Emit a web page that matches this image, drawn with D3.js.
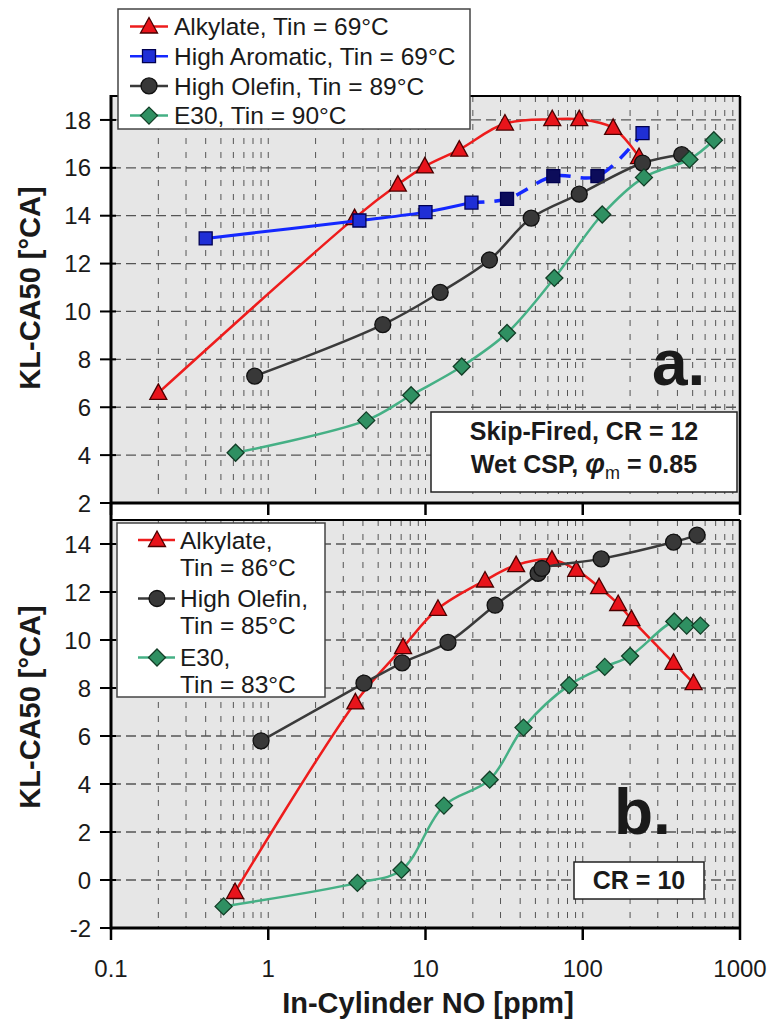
<!DOCTYPE html>
<html>
<head>
<meta charset="utf-8">
<script src="https://cdn.jsdelivr.net/npm/d3@7"></script>
<style>
  body { margin: 0; background: #fff; }
  text { font-family: "Liberation Sans", Arial, sans-serif; fill: #1a1a1a; }
</style>
</head>
<body>
<div id="chart"></div>
<script>
// ---- panel a : Skip-Fired, CR = 12 ----
var alkA_x = [0.2, 3.54, 6.67, 9.9, 16.4, 32, 64, 95, 156, 228];
var alkA_y = [6.6, 13.9, 15.3, 16.06, 16.76, 17.85, 18.03, 18.03, 17.67, 16.45];
var aroA_x = [0.4, 3.8, 10, 19.6, 33, 65, 124, 240];
var aroA_y = [13.05, 13.8, 14.15, 14.55, 14.7, 15.65, 15.65, 17.45];
var olfA_x = [0.82, 5.35, 12.4, 25.5, 47, 95, 240, 426];
var olfA_y = [7.3, 9.45, 10.8, 12.15, 13.9, 14.9, 16.2, 16.55];
var e30A_x = [0.62, 4.2, 8.1, 17, 33, 66, 133, 245, 477, 682];
var e30A_y = [4.1, 5.45, 6.5, 7.7, 9.1, 11.4, 14.05, 15.6, 16.35, 17.15];

// ---- panel b : CR = 10 ----
var alkB_x = [0.615, 3.58, 7.2, 12, 23.9, 37.7, 63.7, 91, 127, 168, 204, 378, 507];
var alkB_y = [-0.5, 7.4, 9.7, 11.3, 12.48, 13.12, 13.35, 12.92, 12.2, 11.5, 10.87, 9.05, 8.2];
var olfB_x = [0.9, 4.06, 7.1, 13.9, 27.7, 52, 55, 131, 378, 533];
var olfB_y = [5.8, 8.2, 9.05, 9.9, 11.45, 12.78, 12.98, 13.38, 14.08, 14.37];
var e30B_x = [0.52, 3.69, 7.03, 13.1, 25.6, 42, 82, 138, 200, 382, 458, 560];
var e30B_y = [-1.1, -0.12, 0.42, 3.1, 4.18, 6.35, 8.12, 8.88, 9.33, 10.77, 10.6, 10.6];

var xTicks = [0.1, 1, 10, 100, 1000];
var xTickLabels = ["0.1", "1", "10", "100", "1000"];
var legendA = ["Alkylate, Tin = 69°C", "High Aromatic, Tin = 69°C", "High Olefin, Tin = 89°C", "E30, Tin = 90°C"];
var legendB = [["Alkylate,", "Tin = 86°C"], ["High Olefin,", "Tin = 85°C"], ["E30,", "Tin = 83°C"]];

function zip(xs, ys) { return xs.map((v, i) => [v, ys[i]]); }

var W = 776, H = 1030;
var plotL = 111, plotR = 740;

var svg = d3.select("#chart").append("svg").attr("width", W).attr("height", H);

var x = d3.scaleLog().domain([0.1, 1000]).range([plotL, plotR]);

// marker shapes, excel-like
var styles = {
  alk: { line: "#ee1c1c", fill: "#e8141b", stroke: "#4a0000", shape: "tri" },
  aro: { line: "#1428ff", fill: "#1f2fd6", stroke: "#000050", shape: "sq" },
  olf: { line: "#3a3a3a", fill: "#383838", stroke: "#111", shape: "circ" },
  e30: { line: "#45b085", fill: "#2f9062", stroke: "#123d26", shape: "dia" }
};

function markerPath(shape) {
  if (shape == "tri") return "M0,-9L8.5,6.5L-8.5,6.5Z";
  if (shape == "sq") return "M-6.5,-6.5H6.5V6.5H-6.5Z";
  if (shape == "dia") return "M0,-8.5L8.5,0L0,8.5L-8.5,0Z";
  return d3.symbol(d3.symbolCircle, 200)();
}

var panels = [
  {
    y: d3.scaleLinear().domain([2, 19]).range([503, 96]),
    ticks: d3.range(2, 19, 2),
    series: [
      { key: "alk", pts: zip(alkA_x, alkA_y) },
      { key: "aro", pts: zip(aroA_x, aroA_y), solidEnd: 3 },
      { key: "olf", pts: zip(olfA_x, olfA_y) },
      { key: "e30", pts: zip(e30A_x, e30A_y) }
    ],
    labelY: 288
  },
  {
    y: d3.scaleLinear().domain([-2, 15]).range([928, 520]),
    ticks: d3.range(-2, 15, 2),
    series: [
      { key: "alk", pts: zip(alkB_x, alkB_y) },
      { key: "olf", pts: zip(olfB_x, olfB_y) },
      { key: "e30", pts: zip(e30B_x, e30B_y) }
    ],
    labelY: 707
  }
];

panels.forEach(function (p) {
  var y = p.y;
  var top = y.range()[1], bot = y.range()[0];
  var g = svg.append("g");

  g.append("rect")
    .attr("x", plotL).attr("y", top)
    .attr("width", plotR - plotL).attr("height", bot - top)
    .attr("fill", "#e6e6e6");

  // vertical grid on every log tick
  g.append("g").selectAll("line")
    .data(x.ticks().filter(v => v > 0.1 && v < 1000))
    .enter().append("line")
    .attr("x1", d => x(d)).attr("x2", d => x(d))
    .attr("y1", top).attr("y2", bot)
    .attr("stroke", "#555").attr("stroke-width", 1)
    .attr("stroke-dasharray", "6,8");

  // horizontal grid
  g.append("g").selectAll("line")
    .data(p.ticks.slice(1))
    .enter().append("line")
    .attr("x1", plotL).attr("x2", plotR)
    .attr("y1", d => y(d)).attr("y2", d => y(d))
    .attr("stroke", "#555").attr("stroke-width", 1.3)
    .attr("stroke-dasharray", "10,5");

  var line = d3.line()
    .x(d => x(d[0])).y(d => y(d[1]))
    .curve(d3.curveCatmullRom.alpha(0.5));

  p.series.forEach(function (s) {
    var st = styles[s.key];
    var sg = g.append("g");
    if (s.solidEnd != null) {
      sg.append("path").attr("d", line(s.pts.slice(0, s.solidEnd + 1)))
        .attr("fill", "none").attr("stroke", st.line).attr("stroke-width", 3);
      sg.append("path").attr("d", line(s.pts.slice(s.solidEnd)))
        .attr("fill", "none").attr("stroke", st.line).attr("stroke-width", 3.5)
        .attr("stroke-dasharray", "13,10");
    } else {
      sg.append("path").attr("d", line(s.pts))
        .attr("fill", "none").attr("stroke", st.line).attr("stroke-width", 2.5);
    }
    sg.selectAll("path.m").data(s.pts).enter().append("path")
      .attr("class", "m")
      .attr("d", markerPath(st.shape))
      .attr("transform", d => "translate(" + x(d[0]) + "," + y(d[1]) + ")")
      .attr("fill", (d, i) => (s.solidEnd != null && i > s.solidEnd && i < s.pts.length - 1) ? "#0c0c5a" : st.fill)
      .attr("stroke", st.stroke).attr("stroke-width", 1.3);
  });

  // frame
  g.append("line").attr("x1", plotL).attr("x2", plotR).attr("y1", top).attr("y2", top)
    .attr("stroke", "#000").attr("stroke-width", 2);
  g.append("line").attr("x1", plotR).attr("x2", plotR).attr("y1", top).attr("y2", bot)
    .attr("stroke", "#000").attr("stroke-width", 2.5);
  g.append("line").attr("x1", plotL - 1).attr("x2", plotR + 1).attr("y1", bot).attr("y2", bot)
    .attr("stroke", "#000").attr("stroke-width", 3);

  // x decade ticks
  g.append("g").selectAll("line").data(xTicks).enter().append("line")
    .attr("x1", d => x(d)).attr("x2", d => x(d))
    .attr("y1", bot).attr("y2", bot + 12)
    .attr("stroke", "#000").attr("stroke-width", 2.5);

  // y ticks + labels
  var yt = g.append("g").selectAll("g").data(p.ticks).enter().append("g");
  yt.append("line")
    .attr("x1", plotL - 11).attr("x2", plotL + 5)
    .attr("y1", d => y(d)).attr("y2", d => y(d))
    .attr("stroke", "#000").attr("stroke-width", 2);
  yt.append("text")
    .attr("x", plotL - 20).attr("y", d => y(d)).attr("dy", "0.36em")
    .attr("text-anchor", "end").attr("font-size", 24)
    .text(d => d);

  svg.append("text")
    .attr("transform", "translate(40," + p.labelY + ") rotate(-90)")
    .attr("text-anchor", "middle").attr("font-size", 29).attr("font-weight", "bold")
    .text("KL-CA50 [°CA]");
});

// left axis runs through both panels
svg.append("line").attr("x1", plotL).attr("x2", plotL).attr("y1", 95).attr("y2", 929.5)
  .attr("stroke", "#000").attr("stroke-width", 3);

// x labels (bottom panel only)
svg.append("g").selectAll("text").data(xTicks).enter().append("text")
  .attr("x", d => x(d)).attr("y", 977)
  .attr("text-anchor", "middle").attr("font-size", 24)
  .text((d, i) => xTickLabels[i]);

svg.append("text").attr("x", 428).attr("y", 1013)
  .attr("text-anchor", "middle").attr("font-size", 29).attr("font-weight", "bold")
  .text("In-Cylinder NO [ppm]");

// legend a
var keysA = ["alk", "aro", "olf", "e30"];
var lgA = svg.append("g");
lgA.append("rect").attr("x", 118).attr("y", 9).attr("width", 352).attr("height", 120)
  .attr("fill", "#fff").attr("stroke", "#444").attr("stroke-width", 1.5);
legendA.forEach(function (t, i) {
  var st = styles[keysA[i]];
  var cy = 26.5 + i * 29.7;
  lgA.append("line").attr("x1", 130).attr("x2", 168).attr("y1", cy).attr("y2", cy)
    .attr("stroke", st.line).attr("stroke-width", 2.5);
  lgA.append("path").attr("d", markerPath(st.shape))
    .attr("transform", "translate(149," + cy + ")")
    .attr("fill", st.fill).attr("stroke", st.stroke).attr("stroke-width", 1.3);
  lgA.append("text").attr("x", 174).attr("y", cy).attr("dy", "0.36em")
    .attr("font-size", 24.5).text(t);
});

// legend b
var keysB = ["alk", "olf", "e30"];
var lgB = svg.append("g");
lgB.append("rect").attr("x", 117).attr("y", 523).attr("width", 208).attr("height", 174)
  .attr("fill", "#fff").attr("stroke", "#444").attr("stroke-width", 1.5);
var rowB = [540, 598.5, 657.5];
legendB.forEach(function (t, i) {
  var st = styles[keysB[i]];
  var cy = rowB[i];
  lgB.append("line").attr("x1", 138).attr("x2", 175).attr("y1", cy).attr("y2", cy)
    .attr("stroke", st.line).attr("stroke-width", 2.5);
  lgB.append("path").attr("d", markerPath(st.shape))
    .attr("transform", "translate(157," + cy + ")")
    .attr("fill", st.fill).attr("stroke", st.stroke).attr("stroke-width", 1.3);
  lgB.append("text").attr("x", 180).attr("y", cy).attr("dy", "0.36em")
    .attr("font-size", 24.5).text(t[0]);
  lgB.append("text").attr("x", 180).attr("y", cy + 27).attr("dy", "0.36em")
    .attr("font-size", 24.5).text(t[1]);
});

// annotations
svg.append("text").attr("x", 652).attr("y", 385)
  .attr("font-size", 64).attr("font-weight", "bold").attr("fill", "#111").text("a.");
svg.append("text").attr("x", 614).attr("y", 834)
  .attr("font-size", 64).attr("font-weight", "bold").attr("fill", "#111").text("b.");

svg.append("rect").attr("x", 431).attr("y", 412).attr("width", 306).attr("height", 80)
  .attr("fill", "#fff").attr("stroke", "#222").attr("stroke-width", 1.5);
svg.append("text").attr("x", 584).attr("y", 440)
  .attr("text-anchor", "middle").attr("font-size", 25).attr("font-weight", "bold")
  .text("Skip-Fired, CR = 12");
var t2 = svg.append("text").attr("x", 584).attr("y", 473)
  .attr("text-anchor", "middle").attr("font-size", 25).attr("font-weight", "bold");
t2.append("tspan").text("Wet CSP, ");
t2.append("tspan").attr("font-style", "italic").attr("font-size", 28).text("φ");
t2.append("tspan").attr("font-weight", "normal").attr("font-size", 18).attr("dy", 6).text("m");
t2.append("tspan").attr("dy", -6).text(" = 0.85");

svg.append("rect").attr("x", 574).attr("y", 862).attr("width", 130).attr("height", 37)
  .attr("fill", "#fff").attr("stroke", "#222").attr("stroke-width", 1.5);
svg.append("text").attr("x", 639).attr("y", 889)
  .attr("text-anchor", "middle").attr("font-size", 25).attr("font-weight", "bold")
  .text("CR = 10");
</script>
</body>
</html>
